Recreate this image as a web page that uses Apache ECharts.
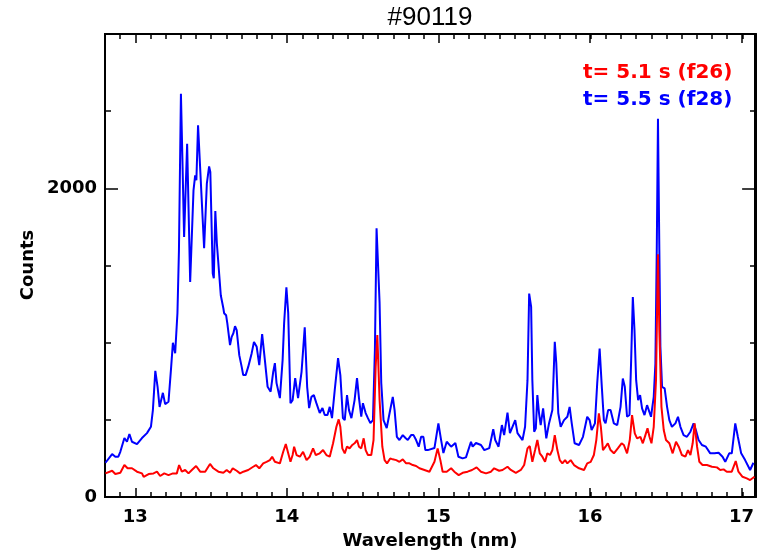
<!DOCTYPE html>
<html>
<head>
<meta charset="utf-8">
<script src="https://cdn.jsdelivr.net/npm/echarts@6/dist/echarts.min.js"></script>
<style>html,body{margin:0;padding:0;background:#fff}#c{width:757px;height:558px}</style>
</head>
<body>
<div id="c"></div>
<script>
// Wavelength (nm) / counts
const blueX = [12.803,12.847,12.868,12.888,12.901,12.928,12.945,12.961,12.978,13.011,13.044,13.077,13.103,13.116,13.132,13.147,13.160,13.182,13.197,13.219,13.235,13.248,13.263,13.278,13.288,13.301,13.311,13.322,13.342,13.362,13.384,13.395,13.403,13.414,13.423,13.454,13.472,13.487,13.495,13.511,13.518,13.528,13.538,13.548,13.564,13.581,13.586,13.599,13.607,13.625,13.636,13.647,13.658,13.669,13.686,13.702,13.712,13.728,13.745,13.757,13.768,13.783,13.801,13.818,13.837,13.855,13.873,13.893,13.910,13.921,13.932,13.954,13.972,13.982,13.997,14.009,14.024,14.038,14.055,14.074,14.097,14.118,14.134,14.147,14.162,14.178,14.195,14.217,14.235,14.250,14.268,14.283,14.298,14.316,14.338,14.353,14.370,14.382,14.397,14.410,14.426,14.447,14.463,14.476,14.491,14.502,14.520,14.535,14.551,14.568,14.581,14.592,14.612,14.623,14.638,14.659,14.678,14.699,14.711,14.726,14.743,14.765,14.783,14.798,14.820,14.836,14.853,14.870,14.886,14.901,14.914,14.930,14.941,14.974,15.000,15.018,15.033,15.055,15.084,15.112,15.132,15.160,15.182,15.215,15.226,15.248,15.281,15.303,15.336,15.362,15.375,15.397,15.419,15.434,15.456,15.472,15.507,15.522,15.555,15.572,15.588,15.599,15.612,15.620,15.632,15.643,15.653,15.664,15.675,15.691,15.704,15.712,15.730,15.752,15.768,15.778,15.791,15.807,15.829,15.851,15.866,15.880,15.899,15.928,15.954,15.982,15.998,16.011,16.033,16.048,16.064,16.077,16.092,16.103,16.120,16.136,16.158,16.180,16.202,16.217,16.230,16.245,16.261,16.272,16.283,16.294,16.305,16.318,16.331,16.344,16.360,16.377,16.388,16.403,16.421,16.432,16.441,16.449,16.458,16.465,16.476,16.493,16.509,16.524,16.541,16.564,16.581,16.597,16.618,16.640,16.663,16.684,16.699,16.717,16.739,16.765,16.794,16.822,16.849,16.875,16.893,16.919,16.936,16.959,16.976,16.998,17.024,17.057,17.079];
const blueY = [222,278,261,261,293,382,358,408,358,343,382,414,455,563,817,714,583,675,602,617,822,999,932,1191,1599,2613,2181,1685,2289,1394,1987,2084,2052,2408,2419,1612,2030,2142,2106,1448,1417,1853,1646,1652,1307,1223,1191,1178,1126,984,1038,1061,1107,1081,919,843,790,790,843,854,932,1005,973,854,1055,887,714,682,811,867,738,641,887,1126,1359,1191,608,628,770,641,811,1100,714,576,649,660,608,544,576,531,531,584,511,693,900,790,511,498,660,563,511,628,770,641,520,608,544,511,479,498,951,1741,1256,738,498,447,544,649,563,390,369,401,382,369,401,401,369,326,390,390,304,304,293,317,477,369,285,358,326,350,261,250,257,358,326,350,337,304,317,440,369,326,466,401,546,414,498,414,369,455,757,1318,1232,757,423,445,660,544,466,574,455,380,477,563,1005,867,544,455,498,520,584,477,348,337,390,520,498,434,477,736,962,736,498,477,563,563,477,466,584,768,714,520,531,887,1296,1081,757,628,660,574,531,595,606,520,649,865,1599,2451,1599,973,714,704,584,498,455,477,520,455,401,390,423,477,434,369,337,326,283,283,287,261,228,283,283,477,390,283,239,175,222];
const redX = [12.803,12.847,12.868,12.901,12.928,12.949,12.978,13.011,13.044,13.055,13.088,13.120,13.143,13.164,13.191,13.219,13.248,13.274,13.289,13.307,13.329,13.351,13.373,13.401,13.428,13.461,13.493,13.515,13.548,13.581,13.603,13.625,13.643,13.669,13.691,13.713,13.745,13.778,13.796,13.818,13.844,13.866,13.888,13.903,13.921,13.954,13.976,13.993,14.009,14.024,14.038,14.048,14.064,14.086,14.107,14.130,14.151,14.173,14.191,14.217,14.239,14.261,14.283,14.305,14.327,14.342,14.353,14.366,14.382,14.397,14.414,14.432,14.447,14.463,14.476,14.491,14.507,14.520,14.535,14.557,14.572,14.586,14.597,14.612,14.630,14.645,14.661,14.682,14.699,14.722,14.743,14.765,14.787,14.809,14.831,14.853,14.875,14.908,14.941,14.974,14.995,15.013,15.028,15.055,15.084,15.105,15.134,15.160,15.193,15.222,15.252,15.281,15.314,15.347,15.368,15.401,15.423,15.456,15.478,15.511,15.544,15.566,15.588,15.603,15.620,15.638,15.653,15.669,15.686,15.704,15.719,15.737,15.752,15.768,15.785,15.801,15.818,15.836,15.851,15.873,15.895,15.928,15.961,15.982,16.005,16.026,16.042,16.059,16.072,16.086,16.103,16.118,16.136,16.158,16.184,16.209,16.224,16.245,16.263,16.278,16.296,16.311,16.333,16.349,16.366,16.380,16.393,16.406,16.421,16.436,16.449,16.458,16.472,16.487,16.502,16.524,16.546,16.568,16.586,16.607,16.630,16.647,16.663,16.678,16.691,16.707,16.722,16.743,16.772,16.805,16.838,16.860,16.882,16.903,16.936,16.962,16.980,17.007,17.035,17.057,17.086];
const redY = [153,170,149,157,207,186,186,164,153,131,149,153,164,136,153,142,153,153,207,164,175,153,175,201,164,164,214,186,164,157,175,157,186,170,153,164,175,196,207,186,218,228,239,261,228,218,293,343,283,228,272,326,272,261,293,239,261,315,272,283,304,272,261,348,455,503,455,315,283,326,315,337,348,369,326,315,380,304,272,272,369,843,1049,628,326,239,218,250,244,239,228,244,218,218,207,201,186,175,164,228,315,239,164,164,186,164,142,157,164,175,192,164,153,164,186,170,175,196,175,157,175,207,315,330,228,304,369,283,261,228,283,272,304,401,304,239,218,239,218,239,207,186,175,218,228,272,369,542,455,304,326,348,304,283,315,348,337,283,369,531,412,380,390,348,401,445,390,348,455,757,1573,1081,584,434,369,348,283,358,326,272,261,304,272,348,477,326,228,207,207,196,192,175,179,164,164,233,164,131,121,110,131];

const xTickLabels = [13, 14, 15, 16, 17];
const yTickLabels = [0, 2000];
const titleText = '#90119';
const legendRed = 't= 5.1 s (f26)';
const legendBlue = 't= 5.5 s (f28)';

const pair = (xs, ys) => xs.map((x, i) => [x, ys[i]]);

const XMIN = 12.8, XMAX = 17.09, YMIN = 0, YMAX = 3000;
const axisFont = { fontFamily: 'DejaVu Sans', fontWeight: 'bold', fontSize: 18, color: '#000' };
const lineSt = { color: '#000', width: 2 };
const tickSt = { color: '#000', width: 1.5 };
const plain = v => String(v);

function xAx(grid, pos, major) {
  return {
    type: 'value', gridIndex: grid, position: pos, min: XMIN, max: XMAX,
    interval: major ? undefined : 0.1,
    axisLine: { show: true, onZero: false, lineStyle: lineSt },
    axisTick: major ? { show: true, inside: true, length: 9, customValues: xTickLabels, lineStyle: tickSt }
                    : { show: true, inside: true, length: 5, lineStyle: tickSt },
    axisLabel: (major && pos === 'bottom') ? Object.assign({ show: true, customValues: xTickLabels, margin: 11, formatter: plain }, axisFont) : { show: false },
    splitLine: { show: false }
  };
}
function yAx(grid, pos, major) {
  return {
    type: 'value', gridIndex: grid, position: pos, min: YMIN, max: YMAX,
    interval: major ? undefined : 500,
    axisLine: { show: true, onZero: false, lineStyle: lineSt },
    axisTick: major ? { show: true, inside: true, length: 13, customValues: yTickLabels, lineStyle: tickSt }
                    : { show: true, inside: true, length: 6, lineStyle: tickSt },
    axisLabel: (major && pos === 'left') ? Object.assign({ show: true, customValues: yTickLabels, margin: 8, formatter: plain }, axisFont) : { show: false },
    splitLine: { show: false }
  };
}

const gridBox = { left: 105, right: 1, top: 34, bottom: 61, containLabel: false };

const chart = echarts.init(document.getElementById('c'), null, { renderer: 'canvas' });
chart.setOption({
  animation: false,
  backgroundColor: '#fff',
  grid: [Object.assign({}, gridBox), Object.assign({}, gridBox)],
  xAxis: [xAx(0, 'bottom', true), xAx(0, 'top', true), xAx(1, 'bottom', false), xAx(1, 'top', false)],
  yAxis: [yAx(0, 'left', true), yAx(0, 'right', true), yAx(1, 'left', false), yAx(1, 'right', false)],
  series: [
    { type: 'line', xAxisIndex: 0, yAxisIndex: 0, data: pair(blueX, blueY), showSymbol: false, symbol: 'none',
      lineStyle: { color: '#0000ff', width: 2 }, itemStyle: { color: '#0000ff' }, z: 3 },
    { type: 'line', xAxisIndex: 0, yAxisIndex: 0, data: pair(redX, redY), showSymbol: false, symbol: 'none',
      lineStyle: { color: '#ff0000', width: 2 }, itemStyle: { color: '#ff0000' }, z: 4 }
  ],
  graphic: [
    { type: 'text', x: 430, y: 18, style: { text: titleText, fill: '#000', fontFamily: 'Liberation Sans', fontSize: 26,
      align: 'center', verticalAlign: 'middle', textAlign: 'center', textVerticalAlign: 'middle' } },
    { type: 'text', x: 583, y: 73, style: { text: legendRed, fill: '#ff0000', fontFamily: 'DejaVu Sans', fontWeight: 'bold', fontSize: 20,
      align: 'left', verticalAlign: 'middle', textAlign: 'left', textVerticalAlign: 'middle' } },
    { type: 'text', x: 583, y: 100, style: { text: legendBlue, fill: '#0000ff', fontFamily: 'DejaVu Sans', fontWeight: 'bold', fontSize: 20,
      align: 'left', verticalAlign: 'middle', textAlign: 'left', textVerticalAlign: 'middle' } },
    { type: 'text', x: 430, y: 541, style: { text: 'Wavelength (nm)', fill: '#000', fontFamily: 'DejaVu Sans', fontWeight: 'bold', fontSize: 18,
      align: 'center', verticalAlign: 'middle', textAlign: 'center', textVerticalAlign: 'middle' } },
    { type: 'text', x: 28, y: 265, rotation: Math.PI / 2, style: { text: 'Counts', fill: '#000', fontFamily: 'DejaVu Sans', fontWeight: 'bold', fontSize: 18,
      align: 'center', verticalAlign: 'middle', textAlign: 'center', textVerticalAlign: 'middle' } }
  ]
});
</script>
</body>
</html>
